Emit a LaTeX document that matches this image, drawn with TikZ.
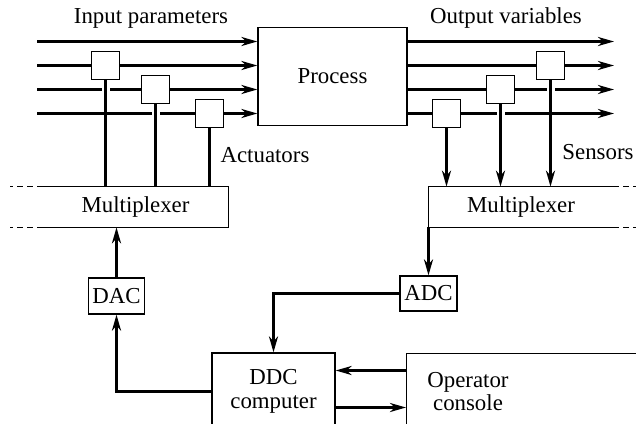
\documentclass[tikz,border=0pt]{standalone}
\usepackage{fontspec}
\setmainfont{Liberation Serif}
\usetikzlibrary{arrows.meta, positioning, calc}

\begin{document}
\begin{tikzpicture}[x=0.02cm, y=-0.02cm,
        box/.style={rectangle, draw, line width=0.7pt, fill=white, inner sep=0pt, align=center, font=\fontsize{13}{13.5}\selectfont},
        sq/.style={rectangle, draw, line width=0.7pt, fill=white, minimum size=0.55cm, inner sep=0pt},
        lbl/.style={inner sep=0pt, align=center, font=\fontsize{13}{13.5}\selectfont},
        wire/.style={line width=1.6pt},
        flecha/.style={wire, -{Stealth[length=3.2mm, width=1.8mm, inset=1mm]}},
        borde/.style={line width=0.7pt},
        punteado/.style={line width=0.7pt, dash pattern=on 3.4pt off 2.3pt}]

    \useasboundingbox (0,0) rectangle (636,423);
    \clip (0,0) rectangle (636,423);

    % Process and multiplexers
    \node[box, minimum width=2.98cm, minimum height=1.96cm] (proc) at (332.5,76.5) {Process};
    \node[lbl, minimum width=3.7cm, minimum height=0.8cm] (muxL) at (135.5,207) {Multiplexer};
    \node[lbl, minimum width=3.68cm, minimum height=0.8cm] (muxR) at (521,207) {Multiplexer};

    % Input and output lines
    \foreach \y/\n in {41.5/1, 65.5/2, 89.5/3, 113.5/4} {
        \coordinate (in\n) at (37,\y);
        \coordinate (out\n) at (614,\y);
        \draw[flecha] (in\n) -- (in\n -| proc.west);
        \draw[flecha] (proc.east |- out\n) -- (out\n);
    }

    % Actuators and sensors
    \node[sq] (act1) at (105.5,65.5) {};
    \node[sq] (act2) at (155.5,89.5) {};
    \node[sq] (act3) at (209.5,113.5) {};
    \node[sq] (sen1) at (446.5,113.5) {};
    \node[sq] (sen2) at (500.5,89.5) {};
    \node[sq] (sen3) at (550.5,65.5) {};

    % Gaps where lines cross
    \foreach \a/\b in {act1/in3, act2/in4, sen3/out3, sen2/out4}
        \fill[white] ($(\a |- \b)+(-4,-3)$) rectangle ($(\a |- \b)+(4,3)$);

    \foreach \a in {act1, act2, act3}
        \draw[wire] (\a) -- (\a |- muxL.north);
    \foreach \s in {sen1, sen2, sen3}
        \draw[flecha] (\s) -- (\s |- muxR.north);

    % Multiplexer borders
    \draw[borde] (muxL.north west) -- (muxL.north east) -- (muxL.south east) -- (muxL.south west);
    \draw[punteado] (muxL.north west) -- ++(-33,0);
    \draw[punteado] (muxL.south west) -- ++(-33,0);
    \draw[borde] (muxR.north east) -- (muxR.north west) -- (muxR.south west) -- (muxR.south east);
    \draw[punteado] (muxR.north east) -- ++(30,0);
    \draw[punteado] (muxR.south east) -- ++(30,0);

    % Converters
    \node[box, minimum width=1.12cm, minimum height=0.72cm] (dac) at (116.5,296) {DAC};
    \node[box, minimum width=1.14cm, minimum height=0.70cm] (adc) at (428.5,293.5) {ADC};

    % Computer and console
    \node[box, minimum width=2.46cm, minimum height=1.54cm] (ddc) at (273.5,391.5) {DDC\\computer};
    \node[box, anchor=north west, minimum width=5cm, minimum height=1.54cm] (cons) at (406,353) {};
    \node[lbl] (constxt) at (468,391.5) {Operator\\console};

    % Arrows
    \draw[flecha] (dac) -- (dac |- muxL.south);
    \draw[flecha] (ddc.west) -| (dac);
    \draw[flecha] (muxR.south -| adc) -- (adc);
    \draw[flecha] (adc.west) -| (ddc.north);
    \draw[flecha] (cons.west |- 0,370.5) -- (ddc.east |- 0,370.5);
    \draw[flecha] (ddc.east |- 0,407.5) -- (cons.west |- 0,407.5);

    % Labels
    \node[lbl] (tin) at (151,18) {Input parameters};
    \node[lbl] (tout) at (506,18) {Output variables};
    \node[lbl] (tact) at (265,155) {Actuators};
    \node[lbl] (tsen) at (598,152) {Sensors};
\end{tikzpicture}
\end{document}
